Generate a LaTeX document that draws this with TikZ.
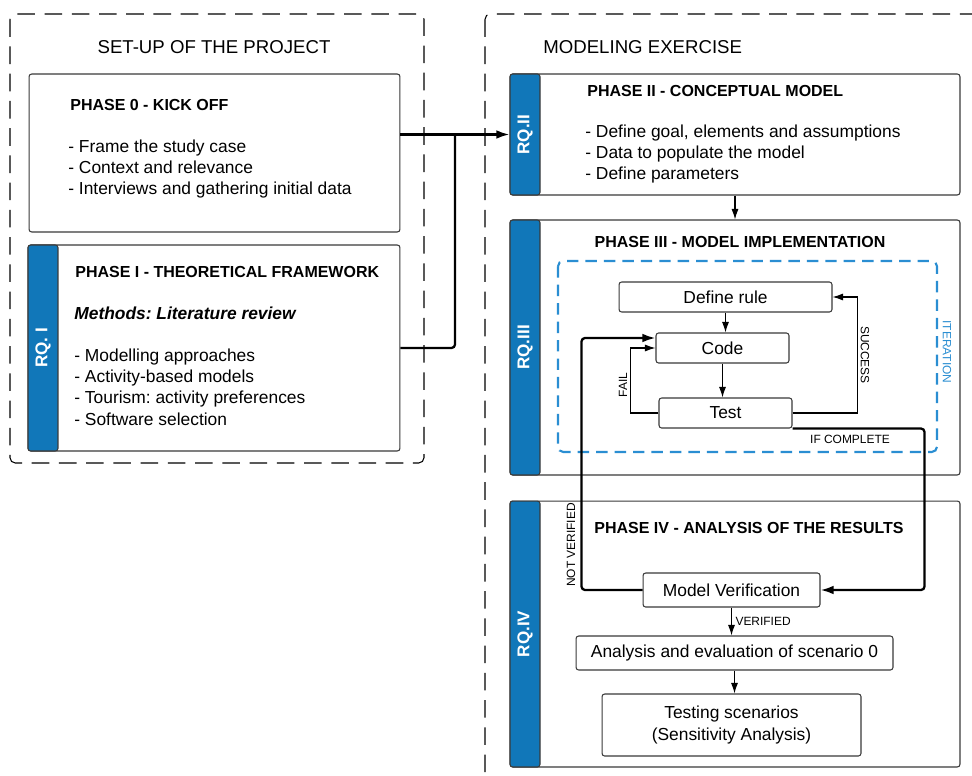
\documentclass[tikz,border=0pt]{standalone}
\usepackage{fontspec}
\setmainfont{Liberation Sans}
\usetikzlibrary{arrows.meta}
\usetikzlibrary{calc}
\definecolor{rqblue}{HTML}{1177B9}
\definecolor{iterblue}{HTML}{2A8ED2}
\definecolor{edgegray}{HTML}{3A3A3A}
\frenchspacing

\begin{document}
\begin{tikzpicture}[x=0.02cm, y=-0.02cm,
    phasebox/.style={draw=edgegray, line width=0.6pt, fill=white, rounded corners=1.5pt, minimum width=9cm, inner sep=0pt},
    rqbar/.style={draw=edgegray, line width=0.6pt, fill=rqblue, rounded corners=1.5pt, minimum width=0.6cm, inner sep=0pt, text=white, font=\fontsize{9.7}{11}\selectfont\bfseries},
    taskbox/.style={draw=edgegray, line width=0.6pt, rounded corners=1.5pt, minimum height=0.6cm, inner sep=0pt, font=\fontsize{9.9}{12.4}\selectfont, align=center},
    heading/.style={font=\fontsize{9.1}{11}\selectfont\bfseries, inner sep=0pt},
    listtext/.style={font=\fontsize{9.9}{12.2}\selectfont, align=left, inner sep=0pt, anchor=west},
    smalllabel/.style={font=\fontsize{6.8}{8}\selectfont, inner sep=0pt},
    thinarrow/.style={-{Latex[length=6pt, width=4pt]}, line width=0.6pt},
    thickarrow/.style={-{Latex[length=7.5pt, width=5pt]}, line width=1.3pt, rounded corners=2pt},
    groupframe/.style={dash pattern=on 10pt off 5.5pt, line width=0.6pt, rounded corners=3pt}
]
\useasboundingbox (0,0) rectangle (972,776);

% the two groups
\draw[groupframe] (10,14) rectangle (424,463);
\draw[groupframe] (485,14) rectangle (1000,800);
\node[font=\fontsize{10.6}{13}\selectfont, inner sep=0pt] (setup) at (214,47) {SET-UP OF THE PROJECT};
\node[font=\fontsize{10.6}{13}\selectfont, inner sep=0pt, anchor=west] (modeling) at (543,47) {MODELING EXERCISE};

% phase 0
\node[phasebox, minimum width=7.42cm, minimum height=3.16cm] (p0) at (214.5,153) {};
\node[heading, anchor=west] (p0head) at (70,105) {PHASE 0 - KICK OFF};
\node[listtext] (p0list) at (68,169) {- Frame the study case\\- Context and relevance\\- Interviews and gathering initial data};

% phase I
\node[phasebox, minimum width=7.44cm, minimum height=4.12cm] (p1) at (214,348) {};
\node[rqbar, minimum height=4.12cm] (rq1) at (43,348) {\rotatebox{90}{RQ. I}};
\node[heading, anchor=west] (p1head) at (75,272) {PHASE I - THEORETICAL FRAMEWORK};
\node[inner sep=0pt, anchor=west, font=\fontsize{9.9}{12}\selectfont\bfseries\itshape] (p1method) at (74,313) {Methods: Literature review};
\node[listtext] (p1list) at (74,387) {- Modelling approaches\\- Activity-based models\\- Tourism: activity preferences\\- Software selection};

% phase II
\node[phasebox, minimum height=2.42cm] (p2) at (735,134.5) {};
\node[rqbar, minimum height=2.42cm] (rq2) at (525,134.5) {\rotatebox{90}{RQ.II}};
\node[heading, anchor=west] (p2head) at (587,91) {PHASE II - CONCEPTUAL MODEL};
\node[listtext] (p2list) at (585,154) {- Define goal, elements and assumptions\\- Data to populate the model\\- Define parameters};

% phase III
\node[phasebox, minimum height=5.1cm] (p3) at (735,347.5) {};
\node[rqbar, minimum height=5.1cm] (rq3) at (525,347.5) {\rotatebox{90}{RQ.III}};
\node[heading] (p3head) at (740,242) {PHASE III - MODEL IMPLEMENTATION};
\draw[iterblue, line width=1.2pt, dash pattern=on 6.5pt off 4pt, rounded corners=3pt] (558,261) rectangle (937,452);
\node[smalllabel, text=iterblue, rotate=-90] (iter) at (947,352) {ITERATION};
\node[taskbox, minimum width=4.26cm] (rule) at (725.5,297) {Define rule};
\node[taskbox, minimum width=2.66cm] (code) at (722.5,348) {Code};
\node[taskbox, minimum width=2.66cm] (test) at (725.5,413) {Test};

% phase IV
\node[phasebox, minimum height=5.32cm] (p4) at (735,634) {};
\node[rqbar, minimum height=5.32cm] (rq4) at (525,634) {\rotatebox{90}{RQ.IV}};
\node[heading] (p4head) at (749,528) {PHASE IV - ANALYSIS OF THE RESULTS};
\node[taskbox, minimum width=3.54cm, minimum height=0.68cm] (verif) at (731.5,590) {Model Verification};
\node[taskbox, minimum width=6.34cm, minimum height=0.68cm] (anal) at (734.5,653) {Analysis and evaluation of scenario 0};
\node[taskbox, minimum width=5.18cm, minimum height=1.24cm] (scen) at (731.5,725) {Testing scenarios\\(Sensitivity Analysis)};

% connectors
\coordinate (join) at (455,134.5);
\draw[thickarrow] (p0.east |- rq2.west) -- (rq2.west);
\draw[line width=1.3pt, rounded corners=2pt] (p1.east) -| (join);
\draw[thinarrow] (p2.south) -- (p3.north);

\draw[thinarrow] (rule.south) -- (rule.south |- code.north);
\draw[thinarrow] (code.south) -- (code.south |- test.north);
\draw[thinarrow] (test.west) -- ++(-28,0) |- (code.west);
\node[smalllabel, rotate=90] (fail) at (623,385) {FAIL};
\draw[thinarrow] (test.east) -- ++(65,0) |- (rule.east);
\node[smalllabel, rotate=-90] (success) at (865,355) {SUCCESS};

\draw[thickarrow] (test.south east) -- ++(132,0) |- (verif.east);
\node[smalllabel] (complete) at (850,439) {IF COMPLETE};
\draw[thickarrow] (verif.west) -- ++(-61,0) |- ($(code.west)+(0,-10)$);
\node[smalllabel, rotate=90] (notverif) at (571,545) {NOT VERIFIED};

\draw[thinarrow] (verif.south) -- node[smalllabel, right=2pt] (verlabel) {VERIFIED} (verif.south |- anal.north);
\draw[thinarrow] (anal.south) -- (anal.south |- scen.north);
\end{tikzpicture}
\end{document}
